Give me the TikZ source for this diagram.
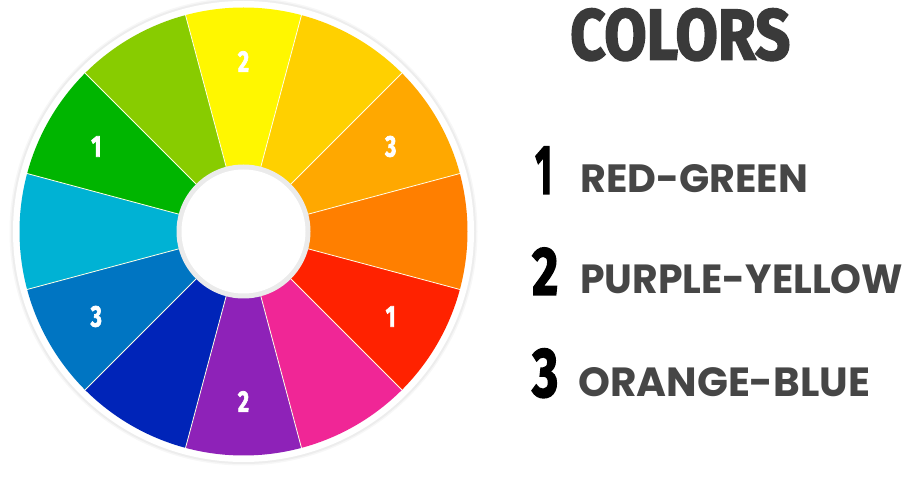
\documentclass[tikz,border=0pt]{standalone}
\usepackage{fontspec}
\usepackage{graphicx}
\usepackage{tikz}
\usetikzlibrary{positioning}
\newfontfamily\heavyfont{Fira Sans}[BoldFeatures={FakeBold=2.5}]
\newfontfamily\wordfont{Poppins}
\definecolor{cwyellow}{RGB}{255,247,0}
\definecolor{cwgold}{RGB}{255,208,0}
\definecolor{cwamber}{RGB}{255,168,0}
\definecolor{cworange}{RGB}{255,127,0}
\definecolor{cwred}{RGB}{255,34,0}
\definecolor{cwpink}{RGB}{240,38,150}
\definecolor{cwpurple}{RGB}{142,34,184}
\definecolor{cwnavy}{RGB}{0,36,184}
\definecolor{cwblue}{RGB}{0,117,194}
\definecolor{cwcyan}{RGB}{0,178,212}
\definecolor{cwgreen}{RGB}{0,181,0}
\definecolor{cwlime}{RGB}{136,204,0}
\definecolor{titlegray}{RGB}{58,58,58}
\definecolor{textgray}{RGB}{70,70,70}
\newcommand{\fitbox}[3]{\resizebox{#1}{#2}{#3}}

\begin{document}
\begin{tikzpicture}[x=1pt,y=1pt,
    wheellabel/.style={text=white,inner sep=0pt,font=\heavyfont\bfseries\fontsize{30}{30}\selectfont},
    bignum/.style={anchor=south west,inner sep=0pt,text=black,font=\heavyfont\bfseries},
    pairname/.style={anchor=south west,inner sep=0pt,text=textgray,font=\wordfont\bfseries}]
  \useasboundingbox (0,0) rectangle (922,477);
  % colour wheel
  \begin{scope}[shift={(243.5,245.5)}]
    \fill[black!3] (0,0) circle[radius=234pt];
    \fill[black!7] (0,0) circle[radius=232.5pt];
    \fill[white] (0,0) circle[radius=230.5pt];
    \foreach \ang/\col in {90/cwyellow,60/cwgold,30/cwamber,0/cworange,-30/cwred,-60/cwpink,
                           -90/cwpurple,-120/cwnavy,-150/cwblue,180/cwcyan,150/cwgreen,120/cwlime} {
      \fill[\col] (0,0) -- (\ang-15:224pt) arc[start angle=\ang-15,end angle=\ang+15,radius=224pt] -- cycle;
    }
    \foreach \ang in {15,45,...,345} {
      \draw[white!90!yellow,line width=0.8pt] (0,0) -- (\ang:224pt);
    }
    \fill[black!8] (0,0) circle[radius=67pt];
    \fill[white] (0,0) circle[radius=62pt];
    \foreach \ang/\n in {90/2,30/3,-30/1,-90/2,-150/3,150/1} {
      \node[wheellabel] (lbl\ang) at (\ang:170pt) {\scalebox{0.72}[1]{\n}};
    }
  \end{scope}
  % legend
  \node[bignum,text=titlegray] (title) at (570,416) {\fitbox{220pt}{51pt}{COLORS}};
  \node[bignum] (num1) at (535,283) {\fitbox{17pt}{47pt}{1}};
  \node[pairname] (pair1) at (580,284) {\fitbox{228pt}{28pt}{RED-GREEN}};
  \node[bignum] (num2) at (532,182) {\fitbox{26pt}{47pt}{2}};
  \node[pairname] (pair2) at (580,183) {\fitbox{323pt}{29pt}{PURPLE-YELLOW}};
  \node[bignum] (num3) at (532,79) {\fitbox{26pt}{48pt}{3}};
  \node[pairname] (pair3) at (578,80) {\fitbox{292pt}{29pt}{ORANGE-BLUE}};
\end{tikzpicture}
\end{document}
